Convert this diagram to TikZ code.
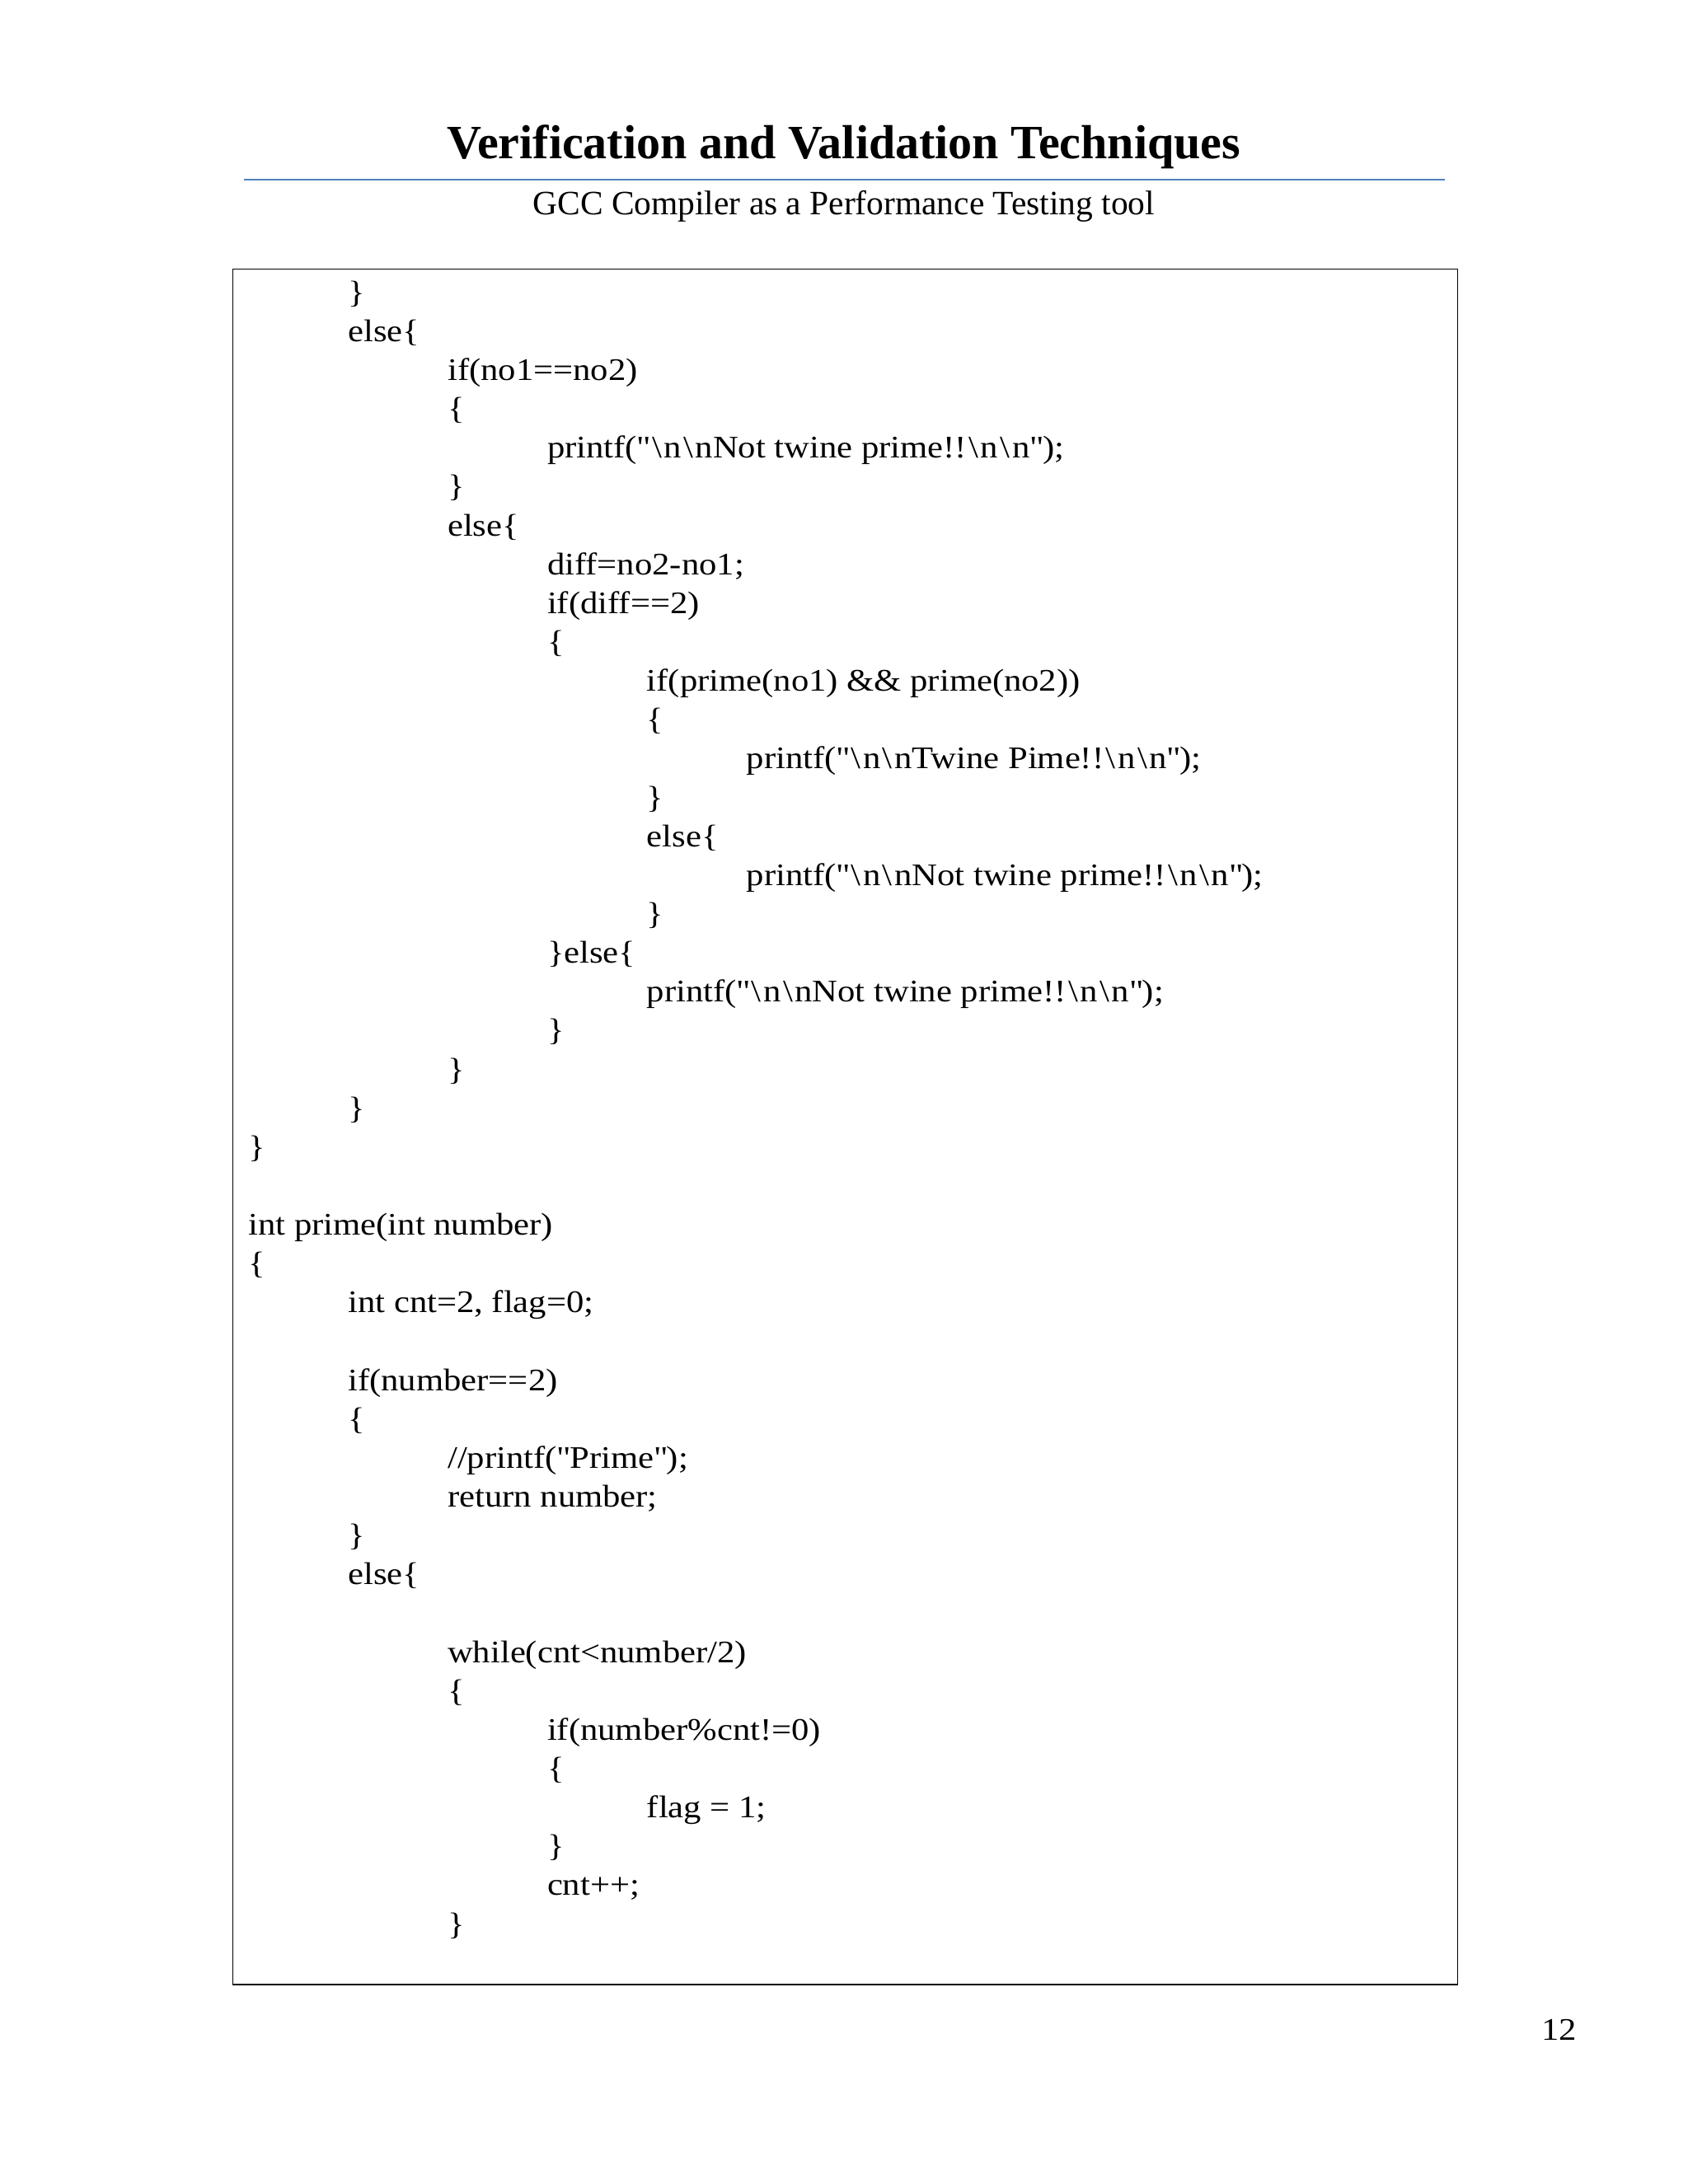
\documentclass[tikz,border=0pt]{standalone}
\usepackage{fontspec}
\setmainfont{Liberation Serif}
\newfontfamily\codefont{Liberation Serif}[FakeStretch=1.12]
\newcommand{\bsl}{\kern1.5pt\textbackslash\kern1.5pt}
\newcommand{\qq}{\textquotedbl}
\begin{document}
\begin{tikzpicture}[x=1pt,y=-1pt,
  code/.style={anchor=base west,inner sep=0pt,font=\codefont\fontsize{22.5}{26}\selectfont}]
\useasboundingbox[fill=white] (0,0) rectangle (1210,1566);
\node[inner sep=0pt,anchor=base,font=\fontsize{34.3}{38}\selectfont\bfseries] (title) at (605,114) {Verification and Validation Techniques};
\draw[color={rgb,255:red,79;green,129;blue,189},line width=1pt] (175,129) -- (1036,129);
\node[inner sep=0pt,anchor=base,font=\fontsize{24.5}{28}\selectfont] (sub) at (605,154) {GCC Compiler as a Performance Testing tool};
\draw[line width=1pt] (167,193) rectangle (1045,1423);
\foreach \i/\l/\t in {
0/1/{\}},1/1/{else\{},2/2/{if(no1==no2)},3/2/{\{},4/3/{printf(\qq\bsl n\bsl nNot twine prime!!\bsl n\bsl n\qq);},
5/2/{\}},6/2/{else\{},7/3/{diff=no2-no1;},8/3/{if(diff==2)},9/3/{\{},10/4/{if(prime(no1) \&\& prime(no2))},11/4/{\{},
12/5/{printf(\qq\bsl n\bsl nTwine Pime!!\bsl n\bsl n\qq);},13/4/{\}},14/4/{else\{},
15/5/{printf(\qq\bsl n\bsl nNot twine prime!!\bsl n\bsl n\qq);},16/4/{\}},17/3/{\}else\{},
18/4/{printf(\qq\bsl n\bsl nNot twine prime!!\bsl n\bsl n\qq);},19/3/{\}},20/2/{\}},21/1/{\}},22/0/{\}},
24/0/{int prime(int number)},25/0/{\{},26/1/{int cnt=2, flag=0;},28/1/{if(number==2)},29/1/{\{},30/2/{//printf(\qq Prime\qq);},31/2/{return number;},
32/1/{\}},33/1/{else\{},35/2/{while(cnt<number/2)},36/2/{\{},37/3/{if(number\%cnt!=0)},38/3/{\{},39/4/{flag = 1;},40/3/{\}},41/3/{cnt++;},42/2/{\}}}
  \node[code] (l\i) at (178+71.4*\l, 217+27.857*\i) {\t};
\node[code] (pg) at (1105,1463) {12};
\end{tikzpicture}
\end{document}
